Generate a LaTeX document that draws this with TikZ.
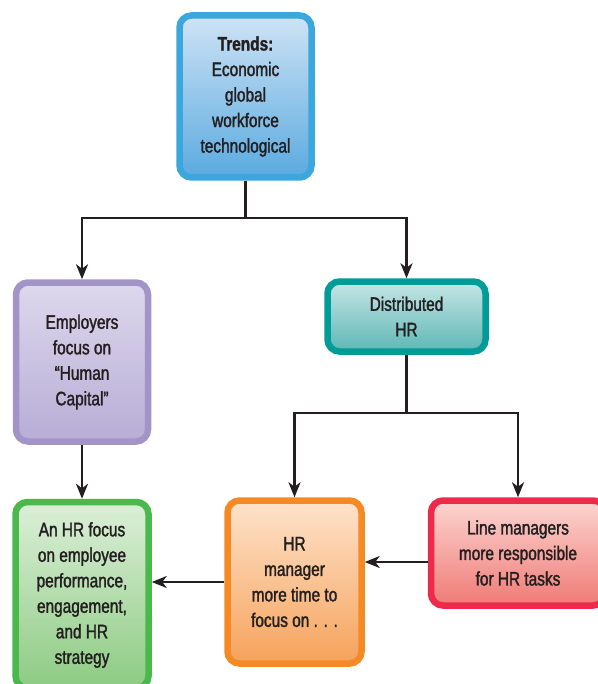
\documentclass[tikz,border=0pt]{standalone}
\usepackage{fontspec}
\setmainfont{Liberation Sans}[FakeStretch=0.79, FakeBold=1.6]
\usepackage{xcolor}
\usepackage{tikz}
\usetikzlibrary{arrows.meta,positioning,calc}

\definecolor{trendline}{HTML}{3BA7DD}
\definecolor{trendtop}{HTML}{CFE3F5}
\definecolor{trendbot}{HTML}{5AAADF}
\definecolor{capline}{HTML}{A394C8}
\definecolor{captop}{HTML}{DDD8EC}
\definecolor{capbot}{HTML}{B7ADD6}
\definecolor{distline}{HTML}{009D98}
\definecolor{disttop}{HTML}{C6E6E6}
\definecolor{distbot}{HTML}{5DB7B4}
\definecolor{focusline}{HTML}{4AB84A}
\definecolor{focustop}{HTML}{DCEFD8}
\definecolor{focusbot}{HTML}{8DCB83}
\definecolor{timeline}{HTML}{F58A25}
\definecolor{timetop}{HTML}{FDE3CB}
\definecolor{timebot}{HTML}{F6A25B}
\definecolor{lineline}{HTML}{EE2A4A}
\definecolor{linetop}{HTML}{FBD5D0}
\definecolor{linebot}{HTML}{F07A76}
\definecolor{inktext}{HTML}{231F20}

\begin{document}
\begin{tikzpicture}[
    x=1pt, y=-1pt,
    box/.style={rectangle, rounded corners=12pt, line width=6.5pt, align=center,
        text=inktext, font=\fontsize{19.5}{25.5}\selectfont},
    trend/.style={box, draw=trendline, top color=trendtop, bottom color=trendbot},
    capital/.style={box, draw=capline, top color=captop, bottom color=capbot},
    distrib/.style={box, draw=distline, top color=disttop, bottom color=distbot},
    focus/.style={box, draw=focusline, top color=focustop, bottom color=focusbot},
    time/.style={box, draw=timeline, top color=timetop, bottom color=timebot},
    linemgr/.style={box, draw=lineline, top color=linetop, bottom color=linebot},
    arrow/.style={->, >={Stealth[length=15pt,width=12pt,inset=4.5pt]}, line width=2.4pt, draw=inktext}
]
    \useasboundingbox (0,0) rectangle (597,684);

    % Trends
    \node[trend, minimum width=132pt, minimum height=162pt] (trends) at (245.5,96.5)
        {\textbf{Trends:}\\Economic\\global\\workforce\\technological};

    % Second row
    \node[capital, minimum width=132pt, minimum height=159pt] (capital) at (82,362)
        {Employers\\focus on\\``Human\\Capital''};
    \node[distrib, minimum width=158pt, minimum height=70pt] (distrib) at (406.5,316.5)
        {Distributed\\HR};

    % Bottom row
    \node[focus, minimum width=133pt, minimum height=186pt] (focus) at (82,595)
        {An HR focus\\on employee\\performance,\\engagement,\\and HR\\strategy};
    \node[time, minimum width=134pt, minimum height=163pt] (time) at (294.5,582)
        {HR\\manager\\more time to\\focus on . . .};
    \node[linemgr, minimum width=174pt, minimum height=105pt] (linemgr) at (518,553)
        {Line managers\\more responsible\\for HR tasks};

    % Forks
    \coordinate (forkA) at (245.5,218);
    \coordinate (forkB) at (406.5,413);

    % Arrows
    \draw[line width=2.4pt, draw=inktext] (trends.south) -- (forkA);
    \draw[arrow] (forkA) -| (capital.north);
    \draw[arrow] (forkA) -| (distrib.north);
    \draw[line width=2.4pt, draw=inktext] (distrib.south) -- (forkB);
    \draw[arrow] (forkB) -| (time.north);
    \draw[arrow] (forkB) -| (linemgr.north);
    \draw[arrow] (capital.south) -- (focus.north);
    \draw[arrow] ([yshift=-9pt]linemgr.west) -- ([yshift=-9pt]linemgr.west -| time.east);
    \draw[arrow] (time.west) -- (time.west -| focus.east);
\end{tikzpicture}
\end{document}
